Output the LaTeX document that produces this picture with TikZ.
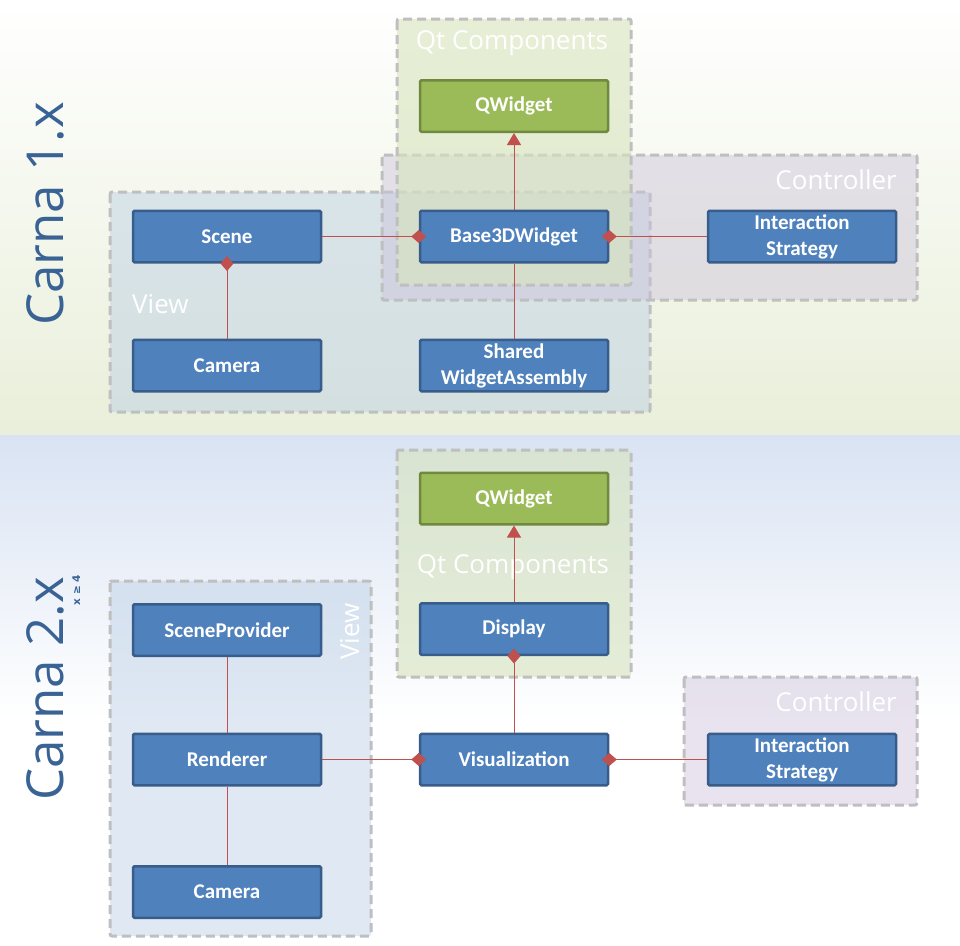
\documentclass[tikz,border=0pt]{standalone}
\usepackage{fontspec}
\setmainfont{Carlito}
\newfontfamily\labelfont{Open Sans}
\newfontfamily\symfont{DejaVu Sans}
\usetikzlibrary{arrows.meta}
\definecolor{boxfill}{HTML}{4F81BD}
\definecolor{boxline}{HTML}{385D8A}
\definecolor{qtfill}{HTML}{9BBB59}
\definecolor{qtline}{HTML}{71893F}
\definecolor{conn}{HTML}{C0504D}
\definecolor{grpline}{HTML}{BFBFBF}
\definecolor{viewfill}{HTML}{B9CDE5}
\definecolor{ctrlfill}{HTML}{CCC1DA}
\definecolor{qtgrpfill}{HTML}{D7E4BD}
\definecolor{titlecol}{HTML}{3A6395}
\definecolor{bgG}{HTML}{E9EFDA}
\definecolor{bgB}{HTML}{D9E3F3}
\tikzset{
  cls/.style={draw=boxline, fill=boxfill, line width=2.5pt, rounded corners=1.5pt,
    minimum width=188pt, minimum height=51.5pt, inner sep=0pt, text=white,
    font=\bfseries\fontsize{21}{26}\selectfont, align=center},
  qtcls/.style={cls, draw=qtline, fill=qtfill},
  grp/.style={draw=grpline, line width=3pt, dash pattern=on 9pt off 5pt, rounded corners=2pt},
  viewgrp/.style={grp, fill=viewfill, fill opacity=0.45},
  ctrlgrp/.style={grp, fill=ctrlfill, fill opacity=0.45},
  qtgrp/.style={grp, fill=qtgrpfill, fill opacity=0.6},
  grplabel/.style={text=white, font=\labelfont\fontsize{26}{30}\selectfont, inner sep=0pt},
  title/.style={text=titlecol, font=\labelfont\fontsize{51}{60}\selectfont, inner sep=0pt, rotate=90, anchor=base},
  link/.style={draw=conn, line width=1pt},
  dia/.style={link, {Diamond[length=15pt,width=13pt]}-, shorten <=-7.5pt},
  inh/.style={link, -{Triangle[length=12pt,width=14pt]}},
}
\begin{document}
\begin{tikzpicture}[x=1pt,y=-1pt]
\useasboundingbox (0,0) rectangle (960,945);
% backgrounds
\shade[top color=white, bottom color=bgG] (0,0) rectangle (960,435);
\fill[white] (0,435) rectangle (960,945);
\shade[top color=bgB, bottom color=white] (0,435) rectangle (960,720);

% titles
\node[title] (t1) at (63,214) {Carna 1.x};
\node[title] (t2) at (63,689) {Carna 2.x};
\node[text=titlecol, font=\symfont\bfseries\fontsize{10.5}{10}\selectfont, rotate=90, anchor=base, inner sep=0pt] (t2sub) at (80,590) {x ≥ 4};

% ===== Carna 1.x groups =====
\draw[viewgrp] (110,192) rectangle (650,412);
\draw[ctrlgrp] (382,155) rectangle (917,300);
\draw[qtgrp] (397,19) rectangle (631,285);
\node[grplabel, anchor=base] (lqt1) at (512,49) {Qt Components};
\node[grplabel, anchor=base east] (lctrl1) at (897,189) {Controller};
\node[grplabel, anchor=base west] (lview1) at (132,313) {View};

% boxes
\node[qtcls] (qw1) at (514,106) {QWidget};
\node[cls] (scene) at (227,236.5) {Scene};
\node[cls] (b3d) at (514,236.5) {Base3DWidget};
\node[cls] (is1) at (802,236.5) {Interaction\\Strategy};
\node[cls] (cam1) at (227,365.5) {Camera};
\node[cls] (swa) at (514,365.5) {Shared\\WidgetAssembly};

% connectors
\draw[dia] (b3d.west) -- (scene.east);
\draw[dia] (b3d.east) -- (is1.west);
\draw[dia] (scene.south) -- (cam1.north);
\draw[link] (swa.north) -- (b3d.south);
\draw[inh] (b3d.north) -- (qw1.south);

% ===== Carna 2.x groups =====
\draw[qtgrp] (397,450) rectangle (631,677);
\draw[viewgrp] (110,581) rectangle (371,936);
\draw[ctrlgrp] (684,677) rectangle (917,805);
\node[grplabel, anchor=base] (lqt2) at (513,573) {Qt Components};
\node[grplabel, anchor=base east] (lctrl2) at (897,711) {Controller};
\node[grplabel, rotate=90, anchor=base east] (lview2) at (359,603) {View};

\node[qtcls] (qw2) at (514,498.5) {QWidget};
\node[cls] (disp) at (514,629) {Display};
\node[cls] (sp) at (227,630) {SceneProvider};
\node[cls] (rend) at (227,759.5) {Renderer};
\node[cls] (vis) at (514,759.5) {Visualization};
\node[cls] (is2) at (802,759.5) {Interaction\\Strategy};
\node[cls] (cam2) at (227,892) {Camera};

\draw[inh] (disp.north) -- (qw2.south);
\draw[dia] (disp.south) -- (vis.north);
\draw[dia] (vis.west) -- (rend.east);
\draw[dia] (vis.east) -- (is2.west);
\draw[link] (sp.south) -- (rend.north);
\draw[link] (rend.south) -- (cam2.north);
\end{tikzpicture}
\end{document}
